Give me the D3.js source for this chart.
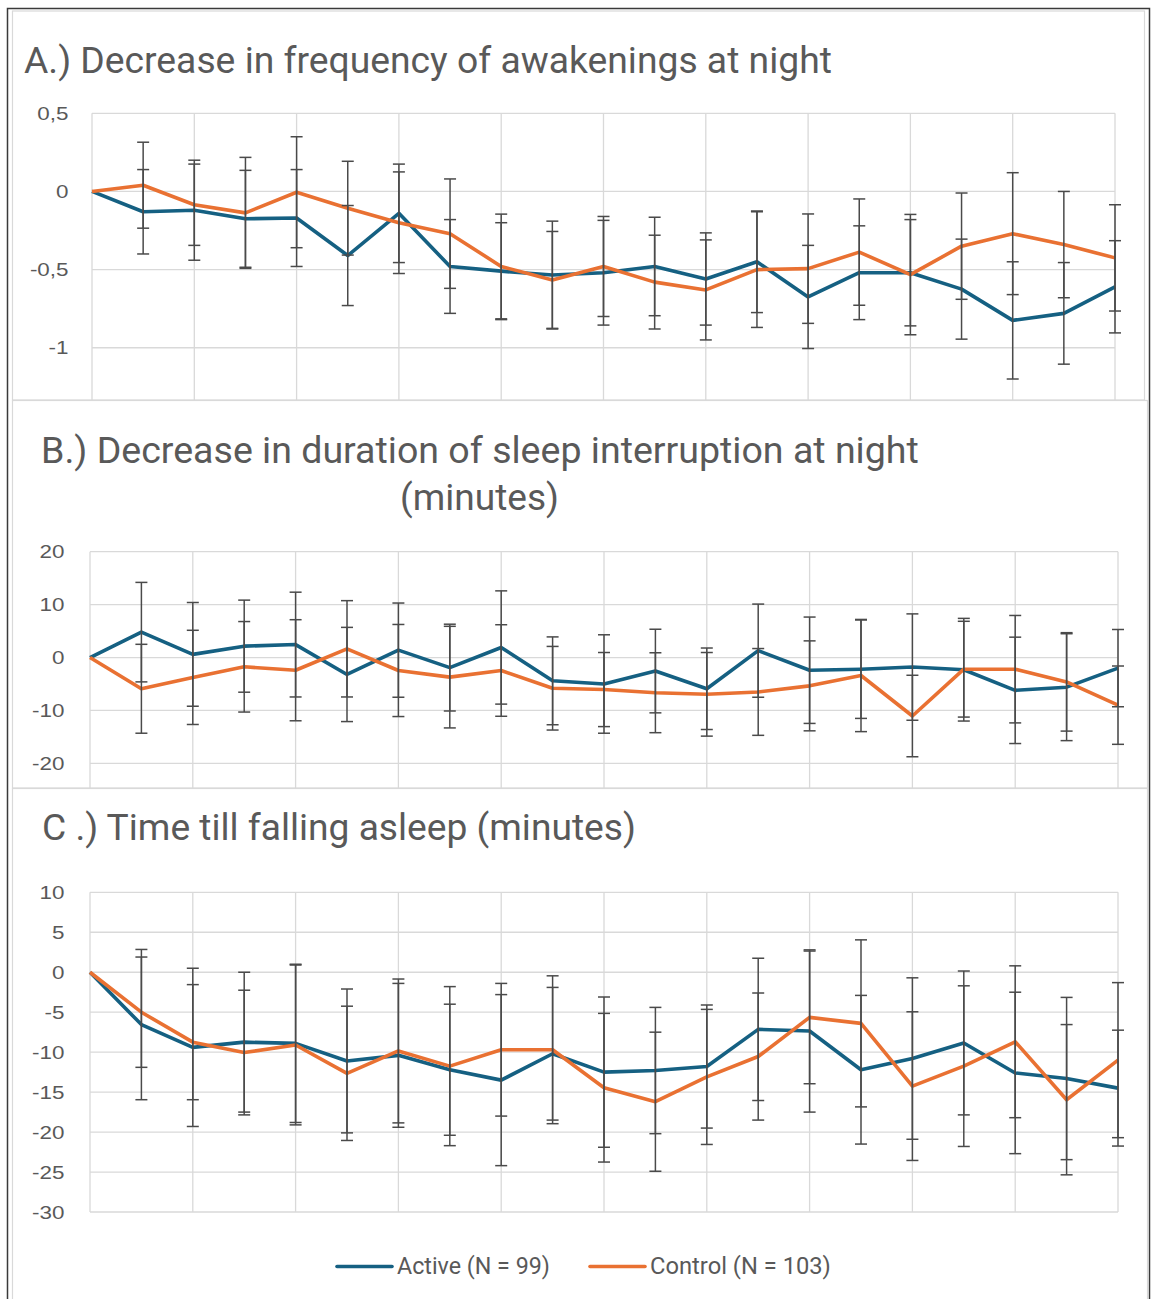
<!DOCTYPE html>
<html>
<head>
<meta charset="utf-8">
<script src="https://cdn.jsdelivr.net/npm/d3@7"></script>
<style>
body{margin:0;background:#fff;}
svg{display:block;font-family:Roboto,"Open Sans",sans-serif;}
</style>
</head>
<body>
<div id="chart"></div>
<script>

// measurement occasions (no labels shown on the x axis)
const occasions = [0,1,2,3,4,5,6,7,8,9,10,11,12,13,14,15,16,17,18,19,20];

const seriesNames = ["Active (N = 99)", "Control (N = 103)"];

// A.) frequency of awakenings
const activeA    = [0,-0.13,-0.12,-0.175,-0.17,-0.41,-0.14,-0.48,-0.51,-0.535,-0.52,-0.48,-0.56,-0.45,-0.675,-0.52,-0.52,-0.625,-0.825,-0.78,-0.61];
const activeAErr = [0,0.27,0.32,0.31,0.31,0.32,0.315,0.30,0.31,0.345,0.335,0.315,0.295,0.325,0.33,0.30,0.34,0.32,0.375,0.325,0.295];
const controlA    = [0,0.04,-0.085,-0.137,-0.005,-0.107,-0.20,-0.27,-0.48,-0.566,-0.48,-0.58,-0.63,-0.50,-0.494,-0.388,-0.532,-0.35,-0.27,-0.34,-0.425];
const controlAErr = [0,0.275,0.26,0.355,0.355,0.30,0.325,0.35,0.335,0.31,0.32,0.30,0.32,0.37,0.35,0.34,0.385,0.34,0.39,0.34,0.34];

// B.) duration of sleep interruption
const activeB    = [0,4.8,0.6,2.15,2.45,-3.2,1.4,-1.9,1.9,-4.4,-5.0,-2.55,-5.9,1.3,-2.4,-2.2,-1.8,-2.3,-6.2,-5.6,-2.0];
const activeBErr = [0,9.4,9.8,8.7,9.9,8.9,8.9,8.2,10.7,8.3,9.3,7.9,7.7,8.8,10.05,9.3,10.05,9.7,10.05,10.1,7.3];
const controlB    = [0,-5.9,-3.75,-1.75,-2.4,1.65,-2.45,-3.7,-2.45,-5.8,-6.05,-6.65,-6.95,-6.5,-5.35,-3.4,-11.05,-2.2,-2.2,-4.6,-9.0];
const controlBErr = [0,8.4,8.9,8.55,9.55,9.1,8.7,9.6,8.65,7.9,7.0,7.55,7.9,8.2,8.5,10.6,7.7,9.05,10.15,9.3,7.4];

// C.) time till falling asleep
const activeC    = [0,-6.55,-9.4,-8.75,-8.9,-11.1,-10.4,-12.2,-13.5,-10.2,-12.5,-12.3,-11.8,-7.15,-7.35,-12.2,-10.8,-8.85,-12.6,-13.3,-14.5];
const activeCErr = [0,9.4,9.9,8.75,9.9,9.0,9.0,8.2,10.7,8.3,9.4,7.9,7.7,8.9,10.15,9.3,10.1,9.0,10.1,10.15,7.25];
const controlC    = [0,-5.0,-8.75,-10.05,-9.1,-12.65,-9.85,-11.75,-9.7,-9.7,-14.45,-16.2,-13.1,-10.55,-5.65,-6.4,-14.25,-11.75,-8.7,-15.95,-11.0];
const controlCErr = [0,6.9,7.2,7.8,10.0,8.4,9.0,9.95,8.3,9.25,9.3,8.7,8.45,7.95,8.3,10.45,9.3,10.05,9.5,9.4,9.7];

// tick values (the lowest gridline of A and B sits under the next panel)
const ticksA = [0.5,0,-0.5,-1];
const ticksB = [20,10,0,-10,-20];
const ticksC = [10,5,0,-5,-10,-15,-20,-25,-30];

const W = 1152, H = 1299;
const activeColor = "#156082", controlColor = "#E97132";
const textColor = "#595959", gridColor = "#d9d9d9", barColor = "#4a4a4a";

const svg = d3.select("#chart").append("svg")
	.attr("width", W)
	.attr("height", H);

svg.append("rect")
	.attr("width", W).attr("height", H)
	.attr("fill", "#fff");

// outer frame
svg.append("rect")
	.attr("x", 7.5).attr("y", 8.5)
	.attr("width", 1142).attr("height", 1310)
	.attr("fill", "#fff")
	.attr("stroke", "#3a3a3a")
	.attr("stroke-width", 1.5);

// shrink/grow a text to a measured width
function fitText(t, target){
	const w = t.node().getComputedTextLength();
	const fs = parseFloat(t.attr("font-size"));
	t.attr("font-size", fs * target / w);
}

const commaFmt = d => String(d).replace(".", ",");

const panels = [
	{
		box: [12.5, 11, 1132, 389],
		titles: [{text: "A.) Decrease in frequency of awakenings at night", x: 24, y: 73, w: 808}],
		xRange: [92, 1115],
		yDomain: [-1.5, 0.5], yRange: [425.9, 113.3],
		ticks: ticksA, grid: [0.5,0,-0.5,-1,-1.5], fmt: commaFmt, labelX: 68.5,
		active: activeA, activeErr: activeAErr, control: controlA, controlErr: controlAErr
	},
	{
		box: [12.5, 400.5, 1135, 387.5],
		titles: [
			{text: "B.) Decrease in duration of sleep interruption at night", x: 41, y: 463, w: 878},
			{text: "(minutes)", x: 400, y: 510, w: 159}
		],
		xRange: [90, 1118],
		yDomain: [-30, 20], yRange: [816.3, 551.7],
		ticks: ticksB, grid: [20,10,0,-10,-20,-30], fmt: d => String(d), labelX: 64.5,
		active: activeB, activeErr: activeBErr, control: controlB, controlErr: controlBErr
	},
	{
		box: [12.5, 788.5, 1135, 530],
		titles: [{text: "C .) Time till falling asleep (minutes)", x: 42, y: 840, w: 594}],
		xRange: [90, 1118],
		yDomain: [-30, 10], yRange: [1212, 892.3],
		ticks: ticksC, grid: ticksC, fmt: d => String(d), labelX: 64.5,
		active: activeC, activeErr: activeCErr, control: controlC, controlErr: controlCErr
	}
];

function drawPanel(p){
	const g = svg.append("g");

	g.append("rect")
		.attr("x", p.box[0]).attr("y", p.box[1])
		.attr("width", p.box[2]).attr("height", p.box[3])
		.attr("fill", "#fff")
		.attr("stroke", gridColor)
		.attr("stroke-width", 1.2);

	p.titles.forEach(tt => {
		const t = g.append("text")
			.attr("x", tt.x).attr("y", tt.y)
			.attr("font-size", 32)
			.attr("fill", textColor)
			.text(tt.text);
		fitText(t, tt.w);
	});

	const x = d3.scalePoint().domain(occasions).range(p.xRange);
	const y = d3.scaleLinear().domain(p.yDomain).range(p.yRange);

	// horizontal gridlines
	g.append("g").selectAll("line")
		.data(p.grid)
		.join("line")
		.attr("x1", p.xRange[0]).attr("x2", p.xRange[1])
		.attr("y1", d => y(d)).attr("y2", d => y(d))
		.attr("stroke", gridColor).attr("stroke-width", 1.3);

	// vertical gridlines every second occasion
	g.append("g").selectAll("line")
		.data(occasions.filter(d => d % 2 === 0))
		.join("line")
		.attr("x1", d => x(d)).attr("x2", d => x(d))
		.attr("y1", y(p.yDomain[1])).attr("y2", y(p.yDomain[0]))
		.attr("stroke", gridColor).attr("stroke-width", 1.3);

	const axis = d3.axisLeft(y)
		.tickValues(p.ticks)
		.tickSize(0)
		.tickPadding(0)
		.tickFormat(p.fmt);

	g.append("g")
		.attr("transform", `translate(${p.labelX},0)`)
		.call(axis)
		.call(a => a.select(".domain").remove())
		.call(a => a.selectAll("text")
			.attr("fill", textColor)
			.attr("font-size", 19)
			.attr("font-family", "'Liberation Sans', Arial, sans-serif")
			.attr("transform", "scale(1.18,1)"));

	const line = d3.line()
		.x((d, i) => x(occasions[i]))
		.y(d => y(d))
		.curve(d3.curveLinear);

	[[p.active, activeColor], [p.control, controlColor]].forEach(([vals, col]) => {
		g.append("path")
			.datum(vals)
			.attr("d", line)
			.attr("fill", "none")
			.attr("stroke", col)
			.attr("stroke-width", 3.6)
			.attr("stroke-linejoin", "round");
	});

	// error bars
	const bars = [];
	[[p.active, p.activeErr], [p.control, p.controlErr]].forEach(([vals, errs]) => {
		vals.forEach((v, i) => {
			if (errs[i] > 0) bars.push({i: occasions[i], hi: v + errs[i], lo: v - errs[i]});
		});
	});

	const eb = g.append("g").selectAll("g")
		.data(bars)
		.join("g")
		.attr("stroke", barColor)
		.attr("stroke-width", 1.5);

	eb.append("line")
		.attr("x1", d => x(d.i)).attr("x2", d => x(d.i))
		.attr("y1", d => y(d.hi)).attr("y2", d => y(d.lo));
	eb.append("line")
		.attr("x1", d => x(d.i) - 6).attr("x2", d => x(d.i) + 6)
		.attr("y1", d => y(d.hi)).attr("y2", d => y(d.hi));
	eb.append("line")
		.attr("x1", d => x(d.i) - 6).attr("x2", d => x(d.i) + 6)
		.attr("y1", d => y(d.lo)).attr("y2", d => y(d.lo));
}

panels.forEach(drawPanel);

// legend
const legend = svg.append("g");
const legendItems = [
	{name: seriesNames[0], color: activeColor, x: 337, w: 153},
	{name: seriesNames[1], color: controlColor, x: 590, w: 181}
];
legendItems.forEach(li => {
	legend.append("line")
		.attr("x1", li.x).attr("x2", li.x + 55)
		.attr("y1", 1266.5).attr("y2", 1266.5)
		.attr("stroke", li.color)
		.attr("stroke-width", 3.6)
		.attr("stroke-linecap", "round");
	const t = legend.append("text")
		.attr("x", li.x + 60).attr("y", 1273.5)
		.attr("font-size", 21)
		.attr("fill", textColor)
		.text(li.name);
	fitText(t, li.w);
});

</script>
</body>
</html>
